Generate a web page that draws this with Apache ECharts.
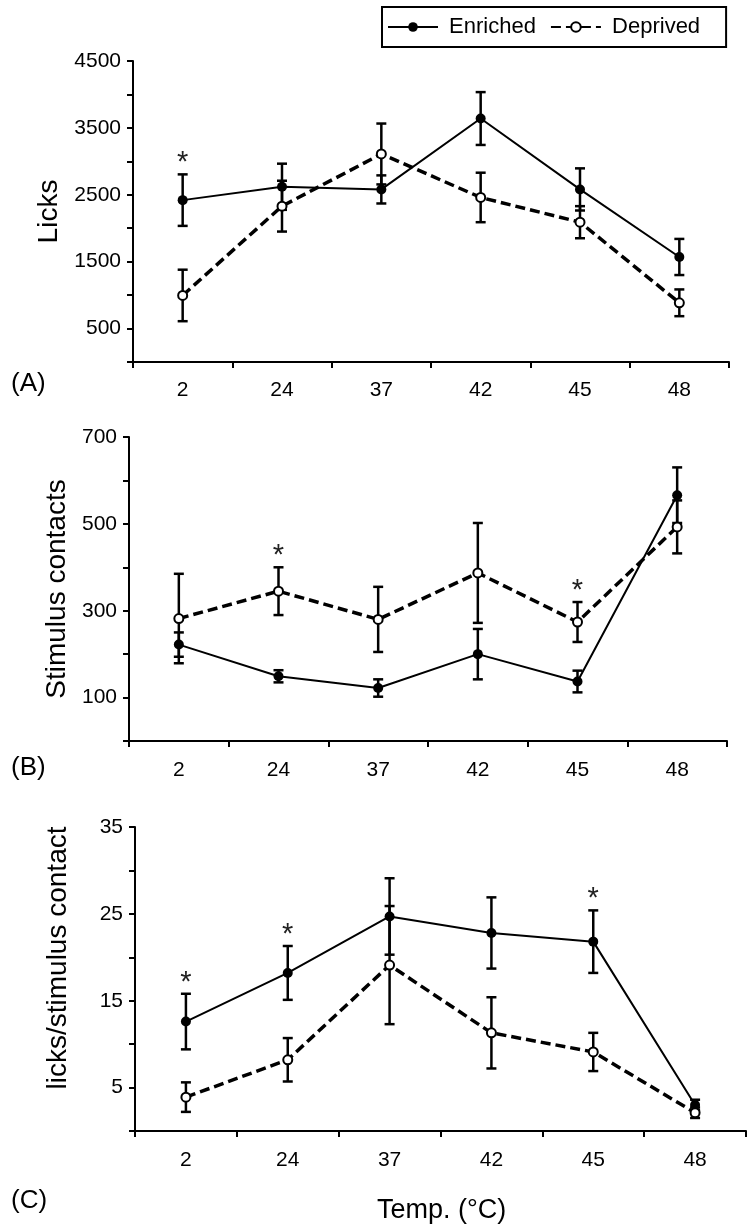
<!DOCTYPE html>
<html>
<head>
<meta charset="utf-8">
<script src="https://cdn.jsdelivr.net/npm/echarts@6/dist/echarts.min.js"></script>
<style>
html,body{margin:0;padding:0;background:#fff;}
#chart{width:748px;height:1226px;}
</style>
</head>
<body>
<div id="chart"></div>
<script>
// ---- data ----
const categories = ['2', '24', '37', '42', '45', '48'];

const enrichedLicks = [2420, 2620, 2580, 3640, 2580, 1570];
const enrichedLicksErr = [385, 345, 210, 395, 315, 270];
const deprivedLicks = [995, 2330, 3110, 2460, 2090, 885];
const deprivedLicksErr = [385, 380, 455, 370, 240, 200];
const sigLicks = [0];

const enrichedContacts = [222, 149, 122, 200, 137, 566];
const enrichedContactsErr = [28, 14, 20, 58, 25, 64];
const deprivedContacts = [282, 345, 280, 387, 274, 493];
const deprivedContactsErr = [103, 55, 75, 115, 46, 61];
const sigContacts = [1, 4];

const enrichedRatio = [12.6, 18.2, 24.7, 22.8, 21.8, 3.0];
const enrichedRatioErr = [3.2, 3.1, 4.4, 4.1, 3.6, 0.6];
const deprivedRatio = [3.9, 8.2, 19.1, 11.3, 9.1, 2.1];
const deprivedRatioErr = [1.7, 2.5, 6.8, 4.1, 2.2, 0.6];
const sigRatio = [0, 1, 4];

const yLicks = {min: 0, max: 4500, interval: 500, labelEvery: 1000, labelStart: 500};
const yContacts = {min: 0, max: 700, interval: 100, labelEvery: 200, labelStart: 100};
const yRatio = {min: 0, max: 35, interval: 5, labelEvery: 10, labelStart: 5};

// ---- helpers ----
const FONT = '"Liberation Sans", Arial, sans-serif';
const BLACK = '#000';

function errData(vals, errs) {
  return vals.map((v, i) => [i, v - errs[i], v + errs[i]]);
}
function sigData(sig, a, ae, b, be) {
  return sig.map(i => [i, Math.max(a[i] + ae[i], b[i] + be[i])]);
}
function errSeries(gi, vals, errs, name) {
  return {
    type: 'custom', name: name + ' err', xAxisIndex: gi, yAxisIndex: gi, z: 2,
    silent: true,
    data: errData(vals, errs),
    encode: {x: 0, y: [1, 2]},
    renderItem: function (params, api) {
      const x = api.value(0);
      const lo = api.coord([x, api.value(1)]);
      const hi = api.coord([x, api.value(2)]);
      const hw = 5;
      const st = {stroke: BLACK, lineWidth: 2.5};
      return {
        type: 'group',
        children: [
          {type: 'line', shape: {x1: lo[0], y1: lo[1], x2: hi[0], y2: hi[1]}, style: st},
          {type: 'line', shape: {x1: hi[0] - hw, y1: hi[1], x2: hi[0] + hw, y2: hi[1]}, style: st},
          {type: 'line', shape: {x1: lo[0] - hw, y1: lo[1], x2: lo[0] + hw, y2: lo[1]}, style: st}
        ]
      };
    }
  };
}
function sigSeries(gi, data) {
  return {
    type: 'custom', xAxisIndex: gi, yAxisIndex: gi, z: 4, silent: true,
    data: data,
    encode: {x: 0, y: 1},
    renderItem: function (params, api) {
      const p = api.coord([api.value(0), api.value(1)]);
      return {
        type: 'text',
        style: {text: '*', x: p[0], y: p[1] - 11, align: 'center', verticalAlign: 'middle',
                font: '29px ' + FONT, fill: '#222'}
      };
    }
  };
}
function enrichedSeries(gi, vals) {
  return {
    type: 'line', name: 'Enriched', xAxisIndex: gi, yAxisIndex: gi, z: 3,
    data: vals, symbol: 'circle', symbolSize: 10,
    itemStyle: {color: BLACK},
    lineStyle: {color: BLACK, width: 2},
    emphasis: {disabled: true}
  };
}
function deprivedSeries(gi, vals) {
  return {
    type: 'line', name: 'Deprived', xAxisIndex: gi, yAxisIndex: gi, z: 3,
    data: vals, symbol: 'circle', symbolSize: 9,
    itemStyle: {color: '#fff', borderColor: BLACK, borderWidth: 2},
    lineStyle: {color: BLACK, width: 3.5, type: [10, 5]},
    emphasis: {disabled: true}
  };
}
function xAxis(gi, margin) {
  return {
    type: 'category', gridIndex: gi, data: categories, boundaryGap: true,
    axisLine: {show: true, lineStyle: {color: BLACK, width: 2}},
    axisTick: {show: true, alignWithLabel: false, interval: 0, length: 6, lineStyle: {color: BLACK, width: 2}},
    axisLabel: {color: BLACK, fontSize: 21, fontFamily: FONT, margin: margin, interval: 0},
    splitLine: {show: false}
  };
}
function yAxis(gi, cfg, name, gap, shift) {
  return {
    type: 'value', gridIndex: gi, min: cfg.min, max: cfg.max, interval: cfg.interval,
    name: name, nameLocation: 'middle', nameRotate: 90, nameGap: gap,
    nameTextStyle: {color: BLACK, fontSize: 28, fontFamily: FONT,
                    padding: shift > 0 ? [0, 0, 0, shift] : [0, -shift, 0, 0]},
    axisLine: {show: true, lineStyle: {color: BLACK, width: 2}},
    axisTick: {show: true, length: 6, lineStyle: {color: BLACK, width: 2}},
    axisLabel: {
      color: BLACK, fontSize: 21, fontFamily: FONT, margin: 12,
      formatter: function (v) {
        return (v >= cfg.labelStart && Math.abs((v - cfg.labelStart) % cfg.labelEvery) < 1e-9) ? String(v) : '';
      }
    },
    splitLine: {show: false}
  };
}

const chart = echarts.init(document.getElementById('chart'), null, {renderer: 'canvas'});
chart.setOption({
  backgroundColor: '#fff',
  animation: false,
  textStyle: {fontFamily: FONT},
  legend: {
    data: ['Enriched', 'Deprived'],
    left: 382, top: 7,
    padding: [9, 26, 9, 5],
    borderColor: BLACK, borderWidth: 2,
    itemWidth: 50, itemHeight: 12, itemGap: 14,
    formatter: function (n) { return ' ' + n; },
    textStyle: {color: BLACK, fontSize: 22, fontFamily: FONT},
    selectedMode: false
  },
  grid: [
    {left: 133, right: 19, top: 61, height: 301},
    {left: 129, right: 21, top: 437, height: 304},
    {left: 135, right: 2, top: 827, height: 304}
  ],
  xAxis: [xAxis(0, 18), xAxis(1, 19), xAxis(2, 19)],
  yAxis: [
    yAxis(0, yLicks, 'Licks', 57, 0),
    yAxis(1, yContacts, 'Stimulus contacts', 57, 0),
    yAxis(2, yRatio, 'licks/stimulus contact', 63, 42)
  ],
  graphic: [
    {type: 'text', left: 11, top: 371, style: {text: '(A)', font: '26px ' + FONT, fill: BLACK}},
    {type: 'text', left: 11, top: 755, style: {text: '(B)', font: '26px ' + FONT, fill: BLACK}},
    {type: 'text', left: 11, top: 1188, style: {text: '(C)', font: '26px ' + FONT, fill: BLACK}},
    {type: 'text', left: 377, top: 1197, style: {text: 'Temp. (°C)', font: '27px ' + FONT, fill: BLACK}}
  ],
  series: [
    errSeries(0, enrichedLicks, enrichedLicksErr, 'Enriched'),
    errSeries(0, deprivedLicks, deprivedLicksErr, 'Deprived'),
    enrichedSeries(0, enrichedLicks),
    deprivedSeries(0, deprivedLicks),
    sigSeries(0, sigData(sigLicks, enrichedLicks, enrichedLicksErr, deprivedLicks, deprivedLicksErr)),

    errSeries(1, enrichedContacts, enrichedContactsErr, 'Enriched'),
    errSeries(1, deprivedContacts, deprivedContactsErr, 'Deprived'),
    enrichedSeries(1, enrichedContacts),
    deprivedSeries(1, deprivedContacts),
    sigSeries(1, sigData(sigContacts, enrichedContacts, enrichedContactsErr, deprivedContacts, deprivedContactsErr)),

    errSeries(2, enrichedRatio, enrichedRatioErr, 'Enriched'),
    errSeries(2, deprivedRatio, deprivedRatioErr, 'Deprived'),
    enrichedSeries(2, enrichedRatio),
    deprivedSeries(2, deprivedRatio),
    sigSeries(2, sigData(sigRatio, enrichedRatio, enrichedRatioErr, deprivedRatio, deprivedRatioErr))
  ]
});
</script>
</body>
</html>
